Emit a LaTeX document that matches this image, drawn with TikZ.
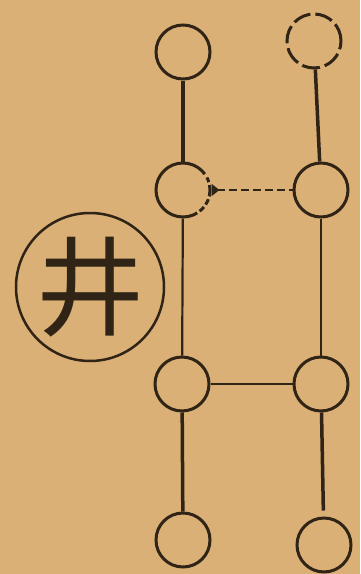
\documentclass[tikz,border=0pt]{standalone}
\usepackage{fontspec}
\newfontfamily\cjk{Noto Sans CJK SC}
\usetikzlibrary{arrows.meta}
\definecolor{paper}{RGB}{218,176,118}
\definecolor{ink}{RGB}{48,36,22}
\tikzset{ring/.style={circle,draw=ink,line width=3pt,minimum size=54pt,inner sep=0pt},
  stem/.style={draw=ink,line width=3.5pt},
  rung/.style={draw=ink,line width=2.2pt}}

\begin{document}
\begin{tikzpicture}[x=1pt,y=-1pt]
\fill[paper] (0,0) rectangle (360,574);
\useasboundingbox (0,0) rectangle (360,574);
% left column
\node[ring] (a1) at (183,52) {};
\node[ring,dash pattern=on 5pt off 3pt on 5pt off 4pt on 125pt off 3pt on 6pt off 3pt on 6pt off 3pt on 6.6pt] (a2) at (183,190) {};
\node[ring] (a3) at (182,384) {};
\node[ring] (a4) at (183,540) {};
% right column
\node[ring,dash pattern=on 18pt off 5pt] (b1) at (314,41) {};
\node[ring] (b2) at (321,190) {};
\node[ring] (b3) at (321,384) {};
\node[ring] (b4) at (324,545) {};
% the well
\node[circle,draw=ink,line width=2.5pt,minimum size=148pt,inner sep=0pt,
  text=ink,font=\cjk\fontsize{108}{108}\selectfont] (well) at (90,287) {井};

\draw[stem] (a1) -- (a2);
\draw[rung] (a2) -- (a3);
\draw[stem] (a3) -- (a4);
\draw[stem] (b1) -- (b2);
\draw[rung] (b2) -- (b3);
\draw[stem,shorten >=6pt] (b3) -- (b4);
\draw[rung,dashed,dash pattern=on 8pt off 4pt,{Triangle[reversed,length=8pt,width=12pt]}-] (a2) -- (b2);
\draw[rung] (a3) -- (b3);
\end{tikzpicture}
\end{document}
